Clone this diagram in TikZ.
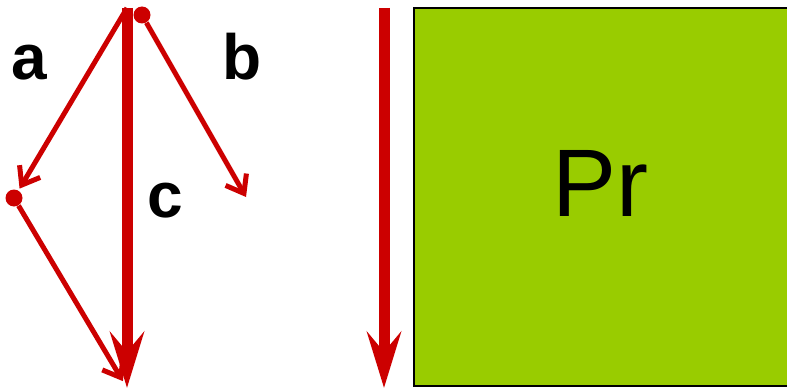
\documentclass[tikz,border=0pt]{standalone}
\usepackage{fontspec}
\setmainfont{Liberation Sans}
\usetikzlibrary{arrows.meta}
\definecolor{vecred}{HTML}{CC0000}
\definecolor{boxgreen}{HTML}{99CC00}
\begin{document}
\begin{tikzpicture}[x=0.5pt,y=-0.5pt,
  vec/.style={draw=vecred,line width=2.5pt,-{Straight Barb[length=8pt,width=12pt]}},
  bigvec/.style={draw=vecred,line width=5.5pt,-{Stealth[length=28pt,width=17pt,inset=10pt]}},
  dot/.style={circle,fill=vecred,inner sep=0pt,minimum size=8.5pt},
  lbl/.style={font=\fontsize{32}{32}\selectfont\bfseries,anchor=base},
  box/.style={draw=black,line width=0.8pt,fill=boxgreen,inner sep=0pt,minimum width=188pt,minimum height=189pt}]
\useasboundingbox (0,0) rectangle (787,390);
\coordinate (o) at (127,8);
\coordinate (e) at (127,388);
\coordinate (bt) at (246,197);
\node[dot] (p) at (14,198) {};
\node[dot] (q) at (142,15) {};
\draw[vec,shorten >=1pt] (o) -- (p);
\draw[vec,shorten >=4pt] (p) -- (e);
\draw[vec] (q) -- (bt);
\draw[bigvec] (o) -- (e);
\node[lbl] (a) at (29,80) {a};
\node[lbl] (b) at (242,80) {b};
\node[lbl] (c) at (165,217) {c};
% right half
\coordinate (f1) at (384,8);
\coordinate (f2) at (384,388);
\draw[bigvec] (f1) -- (f2);
\node[box] (pr) at (602,197) {};
\node[font=\fontsize{48}{48}\selectfont,anchor=base] (prtext) at (600,216) {Pr};
\end{tikzpicture}
\end{document}
